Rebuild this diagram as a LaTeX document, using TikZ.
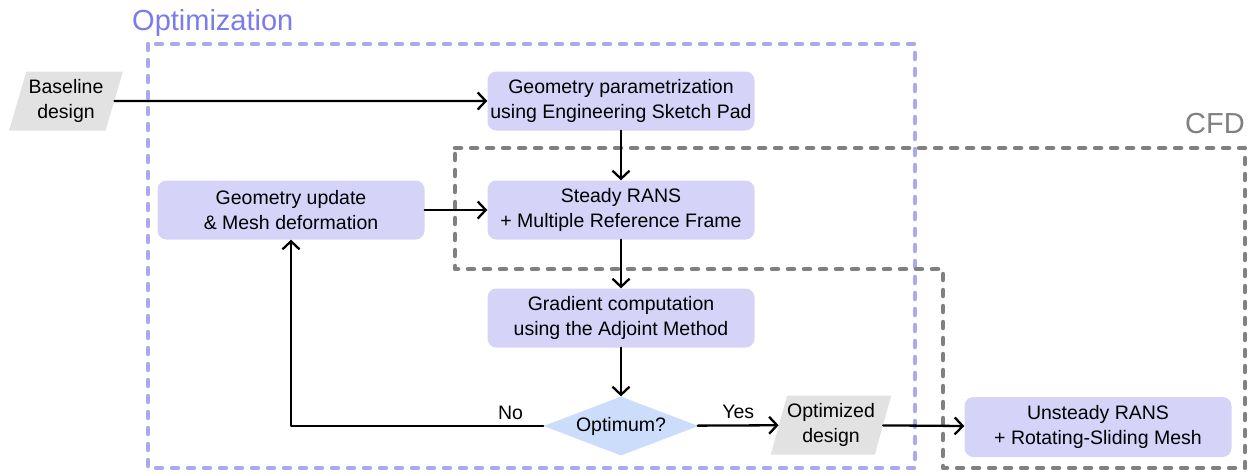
\documentclass[tikz,border=0pt]{standalone}
\usepackage{fontspec}
\setmainfont{Liberation Sans}
\usetikzlibrary{arrows.meta,shapes.geometric}
\definecolor{optline}{HTML}{A9A9EC}
\definecolor{opttext}{HTML}{7B7BEE}
\definecolor{cfdline}{HTML}{808080}
\definecolor{procfill}{HTML}{D5D3F8}
\definecolor{decfill}{HTML}{CCDDFB}
\definecolor{iofill}{HTML}{E2E2E2}
\newcommand\txt{\fontsize{19.5}{24.5}\selectfont}
\newcommand\ttl{\fontsize{29}{32}\selectfont}

\begin{document}
\begin{tikzpicture}[x=1pt, y=-1pt, >={Straight Barb[length=8pt,width=17pt]}, line cap=round, line join=round]
\tikzset{
  proc/.style={rounded corners=9pt, fill=procfill, minimum width=267pt, minimum height=59pt, align=center, inner sep=0pt, font=\txt},
  io/.style={trapezium, trapezium left angle=69, trapezium right angle=111, trapezium stretches=true, fill=iofill, minimum width=114pt, minimum height=59pt, align=center, inner sep=0pt, font=\txt},
  dec/.style={diamond, aspect=2.63, fill=decfill, minimum width=155pt, minimum height=59pt, inner sep=0pt, font=\txt},
  flow/.style={->, line width=2.3pt},
  grp/.style={line width=4.5pt, dash pattern=on 6pt off 10pt},
  lab/.style={font=\txt},
}
\useasboundingbox (0,0) rectangle (1253,475);

% groups
\draw[grp, optline] (148,44) rectangle (915,468);
\draw[grp, cfdline] (455,148) -- (1245,148) -- (1245,468) -- (943,468) -- (943,269) -- (455,269) -- cycle;
\node[anchor=base west, text=opttext, font=\ttl, inner sep=0pt] (opttitle) at (132,30) {Optimization};
\node[anchor=base east, text=cfdline, font=\ttl, inner sep=0pt] (cfdtitle) at (1245,133) {CFD};

% nodes
\node[io] (base) at (66,101) {Baseline\\design};
\node[proc] (param) at (621,101) {Geometry parametrization\\using Engineering Sketch Pad};
\node[proc] (steady) at (621,210) {Steady RANS\\+ Multiple Reference Frame};
\node[proc] (update) at (291,210) {Geometry update\\\& Mesh deformation};
\node[proc] (grad) at (621,318) {Gradient computation\\using the Adjoint Method};
\node[dec] (opt) at (621,426) {Optimum?};
\node[io] (optd) at (831,425) {Optimized\\design};
\node[proc, minimum height=60pt] (unsteady) at (1098,427) {Unsteady RANS\\+ Rotating-Sliding Mesh};

% connectors
\draw[flow] (base) -- (param);
\draw[flow] (param) -- (steady);
\draw[flow] (update) -- (steady);
\draw[flow] (steady) -- (grad);
\draw[flow] (grad) -- (opt);
\draw[flow] (opt) -- node[lab, above=2pt] {Yes} (optd);
\draw[flow] (opt.west) -| node[lab, above=2pt, pos=0.065] {No} (update.south);
\draw[flow] (optd) -- (unsteady);
\end{tikzpicture}
\end{document}
